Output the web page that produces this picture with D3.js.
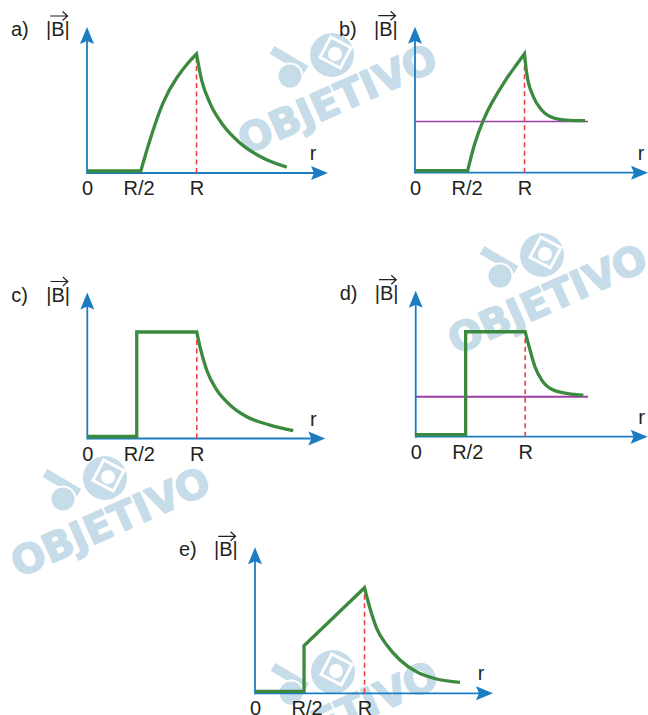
<!DOCTYPE html>
<html>
<head>
<meta charset="utf-8">
<script src="https://cdn.jsdelivr.net/npm/d3@7"></script>
<style>
  html, body { margin: 0; padding: 0; background: #fff; }
  svg { display: block; font-family: "Liberation Sans", Arial, Helvetica, sans-serif; }
</style>
</head>
<body>
<script>
// ---------- data: r in units of R, |B| in units of the largest field ----------
const panelNames = ["a)", "b)", "c)", "d)", "e)"];
const tickValues = [0, 0.5, 1];
const tickLabels = ["0", "R/2", "R"];
const axisTitle = "r";

// (a) field rises smoothly inside the shell, then decays outside
const aCore  = [[0, 0], [0.52, 0]];
const aShell = [[0.52, 0], [0.599, 0.277], [0.711, 0.588], [0.829, 0.798], [0.927, 0.924], [1, 1]];
const aOut   = [[1, 1], [1.047, 0.78], [1.123, 0.588], [1.242, 0.403], [1.397, 0.252], [1.607, 0.126], [1.824, 0.05]];

// (b) same rise, decays towards a constant level
const bCore  = [[0, 0], [0.51, 0]];
const bShell = [[0.51, 0], [0.573, 0.25], [0.645, 0.44], [0.717, 0.585], [0.832, 0.77], [0.918, 0.89], [1, 1]];
const bOut   = [[1, 1], [1.02, 0.835], [1.08, 0.64], [1.157, 0.527], [1.279, 0.457], [1.416, 0.44], [1.553, 0.437]];
const bLevel = [[0, 0.43], [1.58, 0.43]];

// (c) constant inside the shell, decays outside
const cCore  = [[0, 0], [0.48, 0]];
const cShell = [[0.48, 0], [0.48, 0.895], [1, 0.895]];
const cOut   = [[1, 0.895], [1.029, 0.771], [1.09, 0.576], [1.182, 0.408], [1.303, 0.282], [1.456, 0.183], [1.668, 0.113], [1.881, 0.066]];

// (d) constant inside the shell, decays towards a constant level
const dCore  = [[0, 0], [0.485, 0]];
const dShell = [[0.485, 0], [0.485, 0.882], [1, 0.882]];
const dOut   = [[1, 0.882], [1.044, 0.729], [1.089, 0.588], [1.151, 0.476], [1.257, 0.392], [1.39, 0.363], [1.531, 0.35]];
const dLevel = [[0, 0.336], [1.573, 0.336]];

// (e) jump at R/2, linear rise to R, decay outside
const eCore  = [[0, 0], [0.476, 0]];
const eShell = [[0.476, 0], [0.476, 0.4], [1, 0.887]];
const eOut   = [[1, 0.887], [1.05, 0.714], [1.111, 0.546], [1.203, 0.406], [1.324, 0.28], [1.477, 0.18], [1.659, 0.12], [1.872, 0.092]];

// ---------- layout ----------
const W = 648, H = 715;
const COL = {
  axis: "#1b7cc1", curve: "#3b8a3e", dash: "#ef3e46",
  level: "#9d3da6", text: "#231f20", mark: "#c6dce8"
};
const UNIT = 119;                 // px per unit of |B|
const FS = 20;                    // label font size
const panels = [
  { name: panelNames[0], ox: 87,    oy: 173,   end: 241, core: aCore, shell: aShell, smooth: true,  out: aOut },
  { name: panelNames[1], ox: 415,   oy: 172.7, end: 233, core: bCore, shell: bShell, smooth: true,  out: bOut, level: bLevel, lw: 1.4 },
  { name: panelNames[2], ox: 87.3,  oy: 438.5, end: 238, core: cCore, shell: cShell, smooth: false, out: cOut },
  { name: panelNames[3], ox: 415.7, oy: 436.7, end: 232, core: dCore, shell: dShell, smooth: false, out: dOut, level: dLevel, lw: 2 },
  { name: panelNames[4], ox: 255,   oy: 693.3, end: 238, core: eCore, shell: eShell, smooth: false, out: eOut }
];

const svg = d3.select("body").append("svg")
  .attr("width", W).attr("height", H)
  .attr("viewBox", `0 0 ${W} ${H}`);

// ---------- background logo marks ----------
const marks = [[256, 134], [466, 334], [29, 557], [257, 751]];
function drawMark(cx, cy) {
  const g = svg.append("g").attr("transform", `translate(${cx},${cy})`);
  g.append("line").attr("x1", 16).attr("y1", -84).attr("x2", 50).attr("y2", -64)
    .attr("stroke", COL.mark).attr("stroke-width", 9);
  g.append("circle").attr("cx", 76).attr("cy", -79).attr("r", 22).attr("fill", COL.mark);
  g.append("circle").attr("cx", 34).attr("cy", -58).attr("r", 12.5).attr("fill", COL.mark)
    .attr("stroke", "#fff").attr("stroke-width", 2);
  g.append("rect").attr("x", 68).attr("y", -93).attr("width", 23).attr("height", 23)
    .attr("transform", "rotate(28,79.5,-81.5)")
    .attr("fill", "none").attr("stroke", "#fff").attr("stroke-width", 3);
  g.append("circle").attr("cx", 79).attr("cy", -80).attr("r", 7).attr("fill", "#fff");
  g.append("text")
    .attr("transform", "rotate(-24)")
    .attr("x", -18).attr("y", 15)
    .attr("font-family", "DejaVu Sans, Liberation Sans, sans-serif")
    .attr("font-size", 40).attr("font-weight", "bold")
    .attr("fill", COL.mark).attr("stroke", COL.mark).attr("stroke-width", 1.5)
    .attr("stroke-linejoin", "round")
    .text("OBJETIVO");
}
marks.forEach(([x, y]) => drawMark(x, y));

// ---------- panels ----------
panels.forEach(p => {
  const x = d3.scaleLinear().domain([0, 0.5, 1, 2.2]).range([p.ox, p.ox + 51.5, p.ox + 109.5, p.ox + 240.9]);
  const y = d3.scaleLinear().domain([0, 1]).range([p.oy, p.oy - UNIT]);
  // strokes at zero field sit just above the r axis so both stay visible
  const py = d => y(d[1]) - (d[1] === 0 ? 2 : 0);
  const g = svg.append("g");

  const tipY = p.oy - 146;
  const endX = p.ox + p.end;

  // horizontal reference level
  if (p.level) {
    g.append("path")
      .attr("d", d3.line().x(d => x(d[0])).y(d => y(d[1]))(p.level))
      .attr("fill", "none").attr("stroke", COL.level).attr("stroke-width", p.lw);
  }

  // axes
  g.append("line").attr("x1", p.ox).attr("y1", p.oy).attr("x2", endX - 12).attr("y2", p.oy)
    .attr("stroke", COL.axis).attr("stroke-width", 1.8);
  g.append("line").attr("x1", p.ox).attr("y1", p.oy + 0.9).attr("x2", p.ox).attr("y2", tipY + 12)
    .attr("stroke", COL.axis).attr("stroke-width", 1.8);
  g.append("path")
    .attr("d", `M${endX},${p.oy} L${endX - 17},${p.oy - 7} L${endX - 14},${p.oy} L${endX - 17},${p.oy + 7} Z`)
    .attr("fill", COL.axis);
  g.append("path")
    .attr("d", `M${p.ox},${tipY} L${p.ox + 7},${tipY + 17} L${p.ox},${tipY + 14} L${p.ox - 7},${tipY + 17} Z`)
    .attr("fill", COL.axis);

  // tick labels via axis generator
  const ax = g.append("g").attr("transform", `translate(0,${p.oy})`)
    .call(d3.axisBottom(x).tickValues(tickValues)
      .tickFormat((d, i) => tickLabels[i]).tickSize(0).tickPadding(8));
  ax.select(".domain").remove();
  ax.selectAll("text")
    .attr("font-size", FS).attr("font-family", "Liberation Sans, Arial, sans-serif")
    .attr("fill", COL.text);

  // axis title r
  g.append("text").attr("x", p.ox + 226).attr("y", p.oy - 13)
    .attr("text-anchor", "middle").attr("font-size", FS).attr("fill", COL.text)
    .text(axisTitle);

  // dashed guide at r = R
  const atR = p.shell[p.shell.length - 1][1];
  g.append("line").attr("x1", x(1)).attr("x2", x(1)).attr("y1", p.oy).attr("y2", y(atR))
    .attr("stroke", COL.dash).attr("stroke-width", 1.6).attr("stroke-dasharray", "5,3.5");

  // field curve: core + shell + outside as a single stroke
  const lin = d3.line().x(d => x(d[0])).y(py);
  const smooth = d3.line().x(d => x(d[0])).y(py).curve(d3.curveNatural);
  const decay = d3.line().x(d => x(d[0])).y(py).curve(d3.curveMonotoneX);
  const dPath = lin(p.core)
    + (p.smooth ? smooth(p.shell) : lin(p.shell)).replace(/^M/, "L")
    + decay(p.out).replace(/^M/, "L");
  g.append("path").attr("d", dPath)
    .attr("fill", "none").attr("stroke", COL.curve).attr("stroke-width", 3.3)
    .attr("stroke-linejoin", "miter").attr("stroke-miterlimit", 10);

  // panel letter and |B| with vector arrow
  g.append("text").attr("x", p.ox - 76).attr("y", p.oy - 137)
    .attr("font-size", FS).attr("fill", COL.text).text(p.name);
  const bt = g.append("text").attr("x", p.ox - 41).attr("y", p.oy - 137)
    .attr("font-size", FS).attr("fill", COL.text).text("|B|");
  const n = bt.node();
  const bx0 = n.getStartPositionOfChar(1).x, bx1 = n.getEndPositionOfChar(1).x;
  const ay = p.oy - 157;
  g.append("path")
    .attr("d", `M${bx0 - 1},${ay} L${bx1 + 3},${ay} M${bx1 - 2},${ay - 4.5} L${bx1 + 3},${ay} L${bx1 - 2},${ay + 4.5}`)
    .attr("fill", "none").attr("stroke", COL.text).attr("stroke-width", 1.2);
});
</script>
</body>
</html>
